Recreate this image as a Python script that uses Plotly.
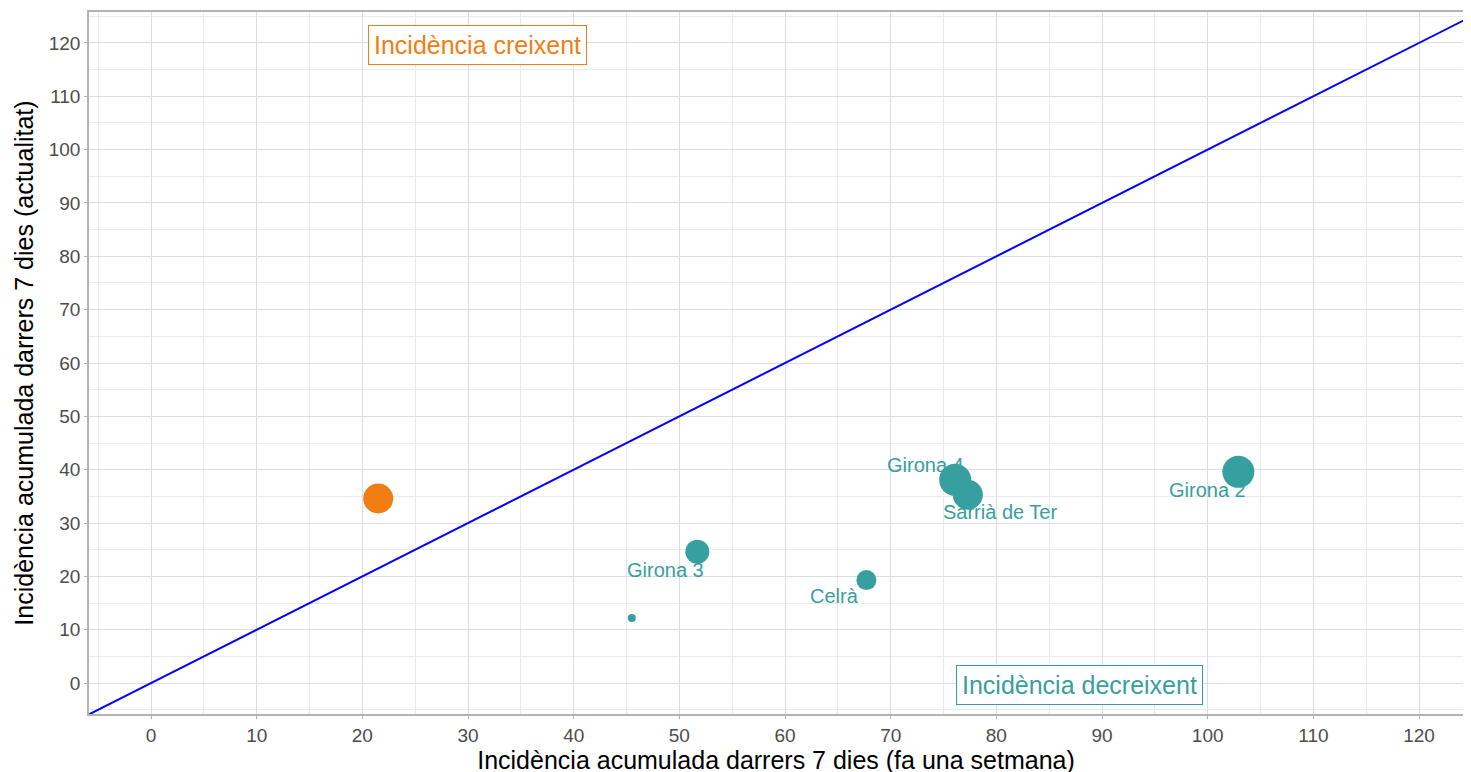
import plotly.graph_objects as go

# data
names = ["", "Girona 3", "", "Celrà", "Girona 4", "Sarrià de Ter", "Girona 2"]
x_prev = [21.5, 51.7, 45.5, 67.7, 76.1, 77.3, 102.9]
y_now = [34.6, 24.6, 12.2, 19.3, 38.1, 35.3, 39.6]
pop_size = [30, 24, 8, 20, 32, 30, 32]
trend = ["up", "down", "down", "down", "down", "down", "down"]

x_ticks = list(range(0, 121, 10))
y_ticks = list(range(0, 121, 10))

ORANGE = "#F07E12"
TEAL = "#389FA0"
FONT = "Liberation Sans, Arial"
colors = [ORANGE if t == "up" else TEAL for t in trend]

# label offsets (px)
label_shift = {
    "Girona 3": (-32, -18),
    "Celrà": (-32, -16),
    "Girona 4": (-30, 15),
    "Sarrià de Ter": (32, -17),
    "Girona 2": (-31, -18),
}

fig = go.Figure()

fig.add_trace(go.Scatter(
    x=[-10, 130], y=[-10, 130], mode="lines",
    line=dict(color="#0000FF", width=2), hoverinfo="skip", showlegend=False))

fig.add_trace(go.Scatter(
    x=x_prev, y=y_now, mode="markers",
    marker=dict(size=pop_size, color=colors, opacity=1, line=dict(width=0)),
    text=names, showlegend=False))

for n, xv, yv in zip(names, x_prev, y_now):
    if n:
        dx, dy = label_shift[n]
        fig.add_annotation(x=xv, y=yv, text=n, showarrow=False, xshift=dx, yshift=dy,
                           font=dict(family=FONT, size=20, color=TEAL))

fig.add_annotation(x=30.9, y=119.6, text="Incidència creixent", showarrow=False,
                   font=dict(family=FONT, size=25, color=ORANGE),
                   bordercolor=ORANGE, borderwidth=1, borderpad=5, bgcolor="white")
fig.add_annotation(x=87.9, y=-0.3, text="Incidència decreixent", showarrow=False,
                   font=dict(family=FONT, size=25, color=TEAL),
                   bordercolor=TEAL, borderwidth=1, borderpad=5, bgcolor="white")

axis_common = dict(
    showgrid=True, gridcolor="#DEDEDE", gridwidth=1,
    minor=dict(showgrid=True, gridcolor="#EBEBEB", gridwidth=1, dtick=5),
    zeroline=False, showline=True, linecolor="#B3B3B3", linewidth=1.5, mirror=True,
    ticks="outside", ticklen=3, tickcolor="#B3B3B3",
    tickfont=dict(family=FONT, size=19, color="#4D4D4D"),
    automargin=False,
)

fig.update_xaxes(range=[-5.87, 124.16], tickvals=x_ticks,
                 title=dict(text="Incidència acumulada darrers 7 dies (fa una setmana)",
                            font=dict(family=FONT, size=25, color="black"),
                            standoff=3),
                 **axis_common)
fig.update_yaxes(range=[-5.8, 125.8], tickvals=y_ticks,
                 title=dict(text="Incidència acumulada darrers 7 dies (actualitat)",
                            font=dict(family=FONT, size=25, color="black"),
                            standoff=8),
                 **axis_common)

fig.update_layout(
    width=1455, height=772,
    margin=dict(l=81, r=0, t=4, b=66),
    plot_bgcolor="white", paper_bgcolor="white",
)

fig.write_html("out.html")
